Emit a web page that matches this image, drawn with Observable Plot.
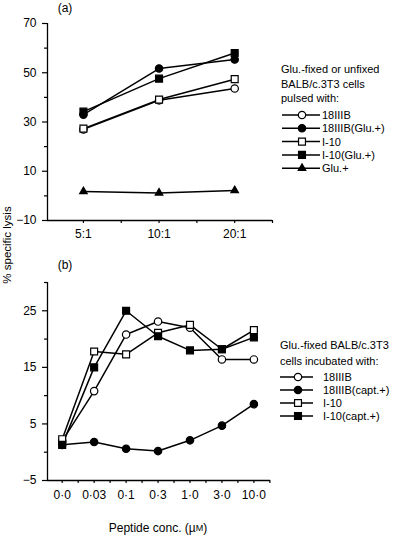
<!DOCTYPE html>
<html>
<head>
<meta charset="utf-8">
<script src="https://cdn.jsdelivr.net/npm/d3@7"></script>
<script src="https://cdn.jsdelivr.net/npm/@observablehq/plot@0.6"></script>
<style>
  html, body { margin: 0; padding: 0; background: #fff; }
  #wrap { position: relative; width: 402px; height: 538px; overflow: hidden; font-family: "Liberation Sans", Arial, Helvetica, sans-serif; }
  #wrap > svg, #wrap > div { position: absolute; left: 0; }
</style>
</head>
<body>
<div id="wrap"></div>
<script>
// ---------- Panel (a) data ----------
const aCategories = ["5:1", "10:1", "20:1"];
const aYTicks = [70, 50, 30, 10, -10];
const aYMinor = [60, 40, 20, 0];
const a18IIIB = [27.0, 38.8, 43.6];
const a18IIIBGlu = [33.0, 51.7, 55.4];
const aI10 = [27.3, 39.1, 47.4];
const aI10Glu = [34.2, 47.6, 58.0];
const aGlu = [1.8, 1.2, 2.2];
const aLegendTitle = ["Glu.-fixed or unfixed", "BALB/c.3T3 cells", "pulsed with:"];
const aLegendNames = ["18IIIB", "18IIIB(Glu.+)", "I-10", "I-10(Glu.+)", "Glu.+"];

// ---------- Panel (b) data ----------
const bCategories = ["0·0", "0·03", "0·1", "0·3", "1·0", "3·0", "10·0"];
const bYTicks = [25, 15, 5, -5];
const bYMinor = [30, 20, 10, 0];
const b18IIIB = [2.0, 10.8, 20.8, 23.1, 22.0, 16.4, 16.4];
const b18IIIBCapt = [1.3, 1.8, 0.6, 0.2, 2.1, 4.7, 8.5];
const bI10 = [2.3, 17.8, 17.3, 21.1, 22.5, 18.2, 21.6];
const bI10Capt = [1.3, 15.0, 25.0, 20.5, 18.0, 18.2, 20.3];
const bLegendTitle = ["Glu.-fixed BALB/c.3T3", "cells incubated with:"];
const bLegendNames = ["18IIIB", "18IIIB(capt.+)", "I-10", "I-10(capt.+)"];

const FONT = '"Liberation Sans", Arial, Helvetica, sans-serif';
const styleOf = {
  "open-circle":   {symbol: "circle",   fill: "white", r: 3.7},
  "filled-circle": {symbol: "circle",   fill: "black", r: 3.7},
  "open-square":   {symbol: "square",   fill: "white", r: 3.9},
  "filled-square": {symbol: "square",   fill: "black", r: 3.9},
  "filled-tri":    {symbol: "triangle", fill: "black", r: 2.8}
};

function toRows(values) { return values.map((v, i) => ({x: i, y: v})); }

function seriesMarks(list) {
  const marks = [];
  for (const s of list) marks.push(Plot.line(toRows(s.values), {x: "x", y: "y", stroke: "black", strokeWidth: 1.5}));
  for (const s of list) {
    const st = styleOf[s.kind];
    marks.push(Plot.dot(toRows(s.values), {x: "x", y: "y", symbol: st.symbol, r: st.r, fill: st.fill, stroke: "black", strokeWidth: 1.2}));
  }
  return marks;
}

const wrap = document.getElementById("wrap");

// ---------- Panel (a) ----------
const aXDomain = [-0.475, 2.5];
const aSeries = [
  {values: a18IIIB, kind: "open-circle"},
  {values: a18IIIBGlu, kind: "filled-circle"},
  {values: aGlu, kind: "filled-tri"},
  {values: aI10, kind: "open-square"},
  {values: aI10Glu, kind: "filled-square"}
];
const plotA = Plot.plot({
  width: 402, height: 245,
  marginLeft: 47, marginRight: 130, marginTop: 23, marginBottom: 25,
  style: {fontFamily: FONT, fontSize: "12px", color: "black", background: "transparent", overflow: "visible"},
  x: {domain: aXDomain},
  y: {domain: [-10, 70]},
  marks: [
    Plot.axisY({ticks: aYTicks, tickSize: 5, tickPadding: 6, label: null, strokeWidth: 1.2}),
    Plot.axisY({ticks: aYMinor, tickSize: 3, tickFormat: () => "", label: null, strokeWidth: 1.2}),
    Plot.axisX({ticks: [0, 1, 2], tickSize: 3, tickPadding: 6, tickFormat: i => aCategories[i], label: null, strokeWidth: 1.2}),
    Plot.axisX({ticks: [0.5, 1.5, 2.5], tickSize: 3, tickFormat: () => "", label: null, strokeWidth: 1.2}),
    Plot.ruleX([aXDomain[0]], {stroke: "black", strokeWidth: 1.3}),
    Plot.ruleY([-10], {stroke: "black", strokeWidth: 1.3}),
    ...seriesMarks(aSeries)
  ]
});
plotA.style.top = "0px";
wrap.appendChild(plotA);

// ---------- Panel (b) ----------
const bXDomain = [-0.46, 6.52];
const bSeries = [
  {values: b18IIIB, kind: "open-circle"},
  {values: b18IIIBCapt, kind: "filled-circle"},
  {values: bI10, kind: "open-square"},
  {values: bI10Capt, kind: "filled-square"}
];
const plotB = Plot.plot({
  width: 402, height: 260,
  marginLeft: 47, marginRight: 132, marginTop: 32, marginBottom: 30,
  style: {fontFamily: FONT, fontSize: "12px", color: "black", background: "transparent", overflow: "visible"},
  x: {domain: bXDomain},
  y: {domain: [-5, 30]},
  marks: [
    Plot.axisY({ticks: bYTicks, tickSize: 5, tickPadding: 6, label: null, strokeWidth: 1.2}),
    Plot.axisY({ticks: bYMinor, tickSize: 3, tickFormat: () => "", label: null, strokeWidth: 1.2}),
    Plot.axisX({ticks: d3.range(bCategories.length), tickSize: 3, tickPadding: 7, tickFormat: i => bCategories[i], label: null, strokeWidth: 1.2}),
    Plot.axisX({ticks: d3.range(bCategories.length).map(i => i + 0.5), tickSize: 3, tickFormat: () => "", label: null, strokeWidth: 1.2}),
    Plot.ruleX([bXDomain[0]], {stroke: "black", strokeWidth: 1.3}),
    Plot.ruleY([-5], {stroke: "black", strokeWidth: 1.3}),
    ...seriesMarks(bSeries)
  ]
});
plotB.style.top = "250px";
wrap.appendChild(plotB);

// ---------- Overlay: labels and legends ----------
const ov = d3.select(wrap).append("svg")
  .attr("width", 402).attr("height", 538)
  .style("position", "absolute").style("top", "0px").style("left", "0px")
  .style("pointer-events", "none")
  .attr("font-family", FONT).attr("fill", "black");

ov.append("text").attr("x", 65).attr("y", 8).attr("text-anchor", "middle")
  .attr("dominant-baseline", "central").attr("font-size", 12).text("(a)");
ov.append("text").attr("x", 65).attr("y", 265).attr("text-anchor", "middle")
  .attr("dominant-baseline", "central").attr("font-size", 12).text("(b)");

ov.append("text").attr("transform", "translate(7,245) rotate(-90)")
  .attr("text-anchor", "middle").attr("dominant-baseline", "central")
  .attr("font-size", 11.5).text("% specific lysis");

const xl = ov.append("text").attr("x", 158).attr("y", 528).attr("text-anchor", "middle")
  .attr("dominant-baseline", "central").attr("font-size", 12);
xl.append("tspan").text("Peptide conc. (µ");
xl.append("tspan").attr("font-size", 9).text("M");
xl.append("tspan").text(")");

function legend(titleLines, titleX, titleY0, titleStep, names, kinds, y0, step, lx1, lx2, mx, tx) {
  titleLines.forEach((t, i) => {
    ov.append("text").attr("x", titleX).attr("y", titleY0 + i * titleStep)
      .attr("dominant-baseline", "central").attr("font-size", 11).text(t);
  });
  names.forEach((n, i) => {
    const y = y0 + i * step;
    ov.append("line").attr("x1", lx1).attr("x2", lx2).attr("y1", y).attr("y2", y)
      .attr("stroke", "black").attr("stroke-width", 1.5);
    const st = styleOf[kinds[i]];
    const type = st.symbol === "circle" ? d3.symbolCircle : st.symbol === "square" ? d3.symbolSquare : d3.symbolTriangle;
    ov.append("path").attr("d", d3.symbol(type, Math.PI * st.r * st.r)())
      .attr("transform", `translate(${mx},${y})`)
      .attr("fill", st.fill).attr("stroke", "black").attr("stroke-width", 1.2);
    ov.append("text").attr("x", tx).attr("y", y).attr("dominant-baseline", "central")
      .attr("font-size", 11).text(n);
  });
}

legend(aLegendTitle, 281, 69, 14.5, aLegendNames,
  ["open-circle", "filled-circle", "open-square", "filled-square", "filled-tri"],
  115, 13.3, 282, 320, 302, 322);
legend(bLegendTitle, 280, 345, 16, bLegendNames,
  ["open-circle", "filled-circle", "open-square", "filled-square"],
  377, 13, 280, 313, 298, 323);
</script>
</body>
</html>
